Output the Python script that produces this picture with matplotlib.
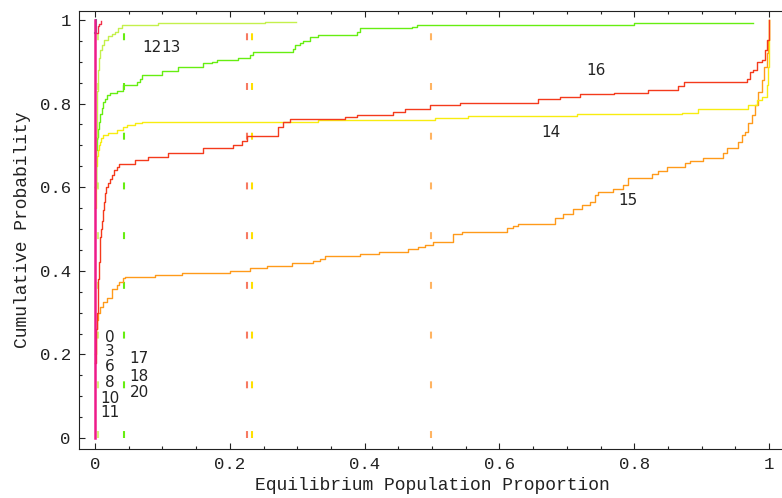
import matplotlib
matplotlib.use("Agg")
import matplotlib.pyplot as plt
from matplotlib.ticker import MultipleLocator, FuncFormatter

# --- Andmed: ECDF hüpped (x) ja tase peale hüpet (y) ---
x12 = [0.0, 0.001, 0.002, 0.003, 0.0037, 0.0045, 0.006, 0.0074, 0.0104, 0.0134, 0.019, 0.025, 0.0297,
       0.034, 0.040, 0.0935, 0.252, 0.298]
y12 = [0.60, 0.66, 0.72, 0.785, 0.83, 0.88, 0.91, 0.928, 0.94, 0.952, 0.962, 0.967, 0.971,
       0.981, 0.988, 0.992, 0.995, 0.995]

x13 = [0.0, 0.001, 0.002, 0.003, 0.0045, 0.006, 0.008, 0.0105, 0.0125, 0.0148, 0.018, 0.022, 0.0326,
       0.042, 0.062, 0.067, 0.070, 0.0994, 0.123, 0.160, 0.174, 0.181, 0.212, 0.230, 0.234, 0.294, 0.297,
       0.304, 0.309, 0.319, 0.331, 0.389, 0.393, 0.470, 0.478, 0.800, 0.976]
y13 = [0.60, 0.65, 0.69, 0.72, 0.74, 0.755, 0.775, 0.79, 0.803, 0.812, 0.82, 0.825, 0.83,
       0.844, 0.851, 0.86, 0.868, 0.878, 0.888, 0.897, 0.90, 0.904, 0.909, 0.916, 0.923, 0.93, 0.94,
       0.945, 0.95, 0.959, 0.964, 0.971, 0.981, 0.983, 0.988, 0.993, 0.993]

x14 = [0.0, 0.001, 0.002, 0.003, 0.004, 0.0055, 0.007, 0.0095, 0.012, 0.020, 0.032, 0.042, 0.048,
       0.060, 0.070, 0.331, 0.504, 0.553, 0.715, 0.871, 0.895, 0.969, 0.982, 0.990, 0.997, 0.9985,
       0.9995, 1.0]
y14 = [0.55, 0.60, 0.65, 0.675, 0.69, 0.70, 0.708, 0.718, 0.725, 0.73, 0.737, 0.744, 0.749,
       0.754, 0.756, 0.761, 0.766, 0.77, 0.775, 0.778, 0.788, 0.797, 0.809, 0.816, 0.844, 0.887,
       0.969, 1.0]

x15 = [0.0, 0.001, 0.002, 0.003, 0.005, 0.0074, 0.012, 0.0178, 0.025, 0.0326, 0.0356, 0.0415, 0.0445,
       0.089, 0.129, 0.200, 0.230, 0.255, 0.292, 0.323, 0.334, 0.341, 0.393, 0.421, 0.464, 0.479, 0.490,
       0.501, 0.531, 0.545, 0.611, 0.620, 0.628, 0.682, 0.694, 0.709, 0.723, 0.734, 0.742, 0.746, 0.769,
       0.783, 0.791, 0.826, 0.835, 0.849, 0.875, 0.883, 0.902, 0.932, 0.938, 0.954, 0.960, 0.964, 0.969,
       0.975, 0.979, 0.984, 0.990, 0.993, 0.997, 0.9985, 0.9995, 1.0]
y15 = [0.20, 0.23, 0.26, 0.282, 0.30, 0.313, 0.325, 0.335, 0.356, 0.366, 0.373, 0.383, 0.385,
       0.39, 0.395, 0.40, 0.407, 0.411, 0.419, 0.423, 0.428, 0.435, 0.44, 0.445, 0.452, 0.457, 0.462,
       0.469, 0.488, 0.493, 0.502, 0.507, 0.512, 0.526, 0.536, 0.548, 0.557, 0.565, 0.581, 0.589, 0.596,
       0.605, 0.622, 0.632, 0.639, 0.648, 0.658, 0.663, 0.67, 0.682, 0.694, 0.708, 0.725, 0.732, 0.754,
       0.773, 0.797, 0.828, 0.856, 0.888, 0.921, 0.952, 0.983, 1.0]

x16 = [0.0, 0.001, 0.002, 0.003, 0.004, 0.005, 0.006, 0.007, 0.008, 0.009, 0.010, 0.0115, 0.013, 0.015,
       0.017, 0.0195, 0.022, 0.025, 0.028, 0.032, 0.036, 0.059, 0.079, 0.108, 0.160, 0.205, 0.218, 0.226,
       0.272, 0.279, 0.289, 0.371, 0.389, 0.442, 0.460, 0.497, 0.542, 0.657, 0.690, 0.720, 0.770, 0.820,
       0.865, 0.874, 0.967, 0.972, 0.976, 0.982, 0.990, 0.994, 0.997, 1.0]
y16 = [0.18, 0.22, 0.26, 0.30, 0.34, 0.38, 0.42, 0.455, 0.48, 0.50, 0.52, 0.545, 0.565, 0.585,
       0.60, 0.61, 0.62, 0.63, 0.64, 0.648, 0.655, 0.665, 0.672, 0.682, 0.694, 0.70, 0.711, 0.722,
       0.745, 0.756, 0.763, 0.768, 0.773, 0.779, 0.787, 0.797, 0.801, 0.81, 0.815, 0.822, 0.826, 0.833,
       0.842, 0.852, 0.859, 0.876, 0.88, 0.90, 0.904, 0.928, 0.952, 1.0]

# väikesed seeriad nulli lähedal
x_small = [0.0, 0.004, 0.006, 0.009]
y_small = [0.97, 0.985, 0.99, 0.998]
x_teal = [0.0, 0.001]
y_teal = [0.97, 1.0]
x_zero = [0.0, 0.0]
y_zero = [0.0, 1.0]

# keskväärtuste kriipsjooned
means = [0.005, 0.0437, 0.2258, 0.233, 0.498]
mean_colors = ["#d4f27a", "#66ee11", "#f77a62", "#ffe000", "#ffb462"]

# sildid
labels = ["12", "13", "16", "14", "15", "0", "3", "6", "8", "10", "11", "17", "18", "20"]
label_x = [0.0845, 0.1125, 0.743, 0.677, 0.791, 0.0223, 0.0223, 0.0223, 0.0223, 0.0223, 0.0223,
           0.0653, 0.0653, 0.0653]
label_y = [0.935, 0.935, 0.878, 0.732, 0.567, 0.240, 0.206, 0.172, 0.132, 0.094, 0.060,
           0.191, 0.146, 0.110]

plt.rcParams["lines.scale_dashes"] = False
mono = "Liberation Mono"

fig = plt.figure(figsize=(7.82, 4.98), dpi=100)
ax = fig.add_axes([79 / 782, 49 / 498, 707 / 782, 438 / 498])

for m, c in zip(means, mean_colors):
    ax.plot([m, m], [0, 1], color=c, lw=1.5, dashes=(5.0, 30.8), solid_capstyle="butt")

ax.step(x15, y15, where="post", color="#ff9a1a", lw=1.0)
ax.step(x14, y14, where="post", color="#f8ec10", lw=1.0)
ax.step(x16, y16, where="post", color="#f43a1c", lw=1.0)
ax.step(x13, y13, where="post", color="#66ee11", lw=1.0)
ax.step(x12, y12, where="post", color="#c4f04c", lw=1.0)
ax.step(x_teal, y_teal, where="post", color="#2aa8a0", lw=1.5)
ax.step(x_small, y_small, where="post", color="#f0304a", lw=1.0)
ax.plot(x_zero, y_zero, color="#ee1a8a", lw=1.8)

for t, lx, ly in zip(labels, label_x, label_y):
    ax.text(lx, ly, t, ha="center", va="center", fontsize=11, color="#222222", family="DejaVu Sans")

ax.set_xlim(-0.0237, 1.025)
ax.set_ylim(-0.0263, 1.0215)

ax.xaxis.set_major_locator(MultipleLocator(0.2))
ax.xaxis.set_minor_locator(MultipleLocator(0.05))
ax.yaxis.set_major_locator(MultipleLocator(0.2))
ax.yaxis.set_minor_locator(MultipleLocator(0.05))
fmt = FuncFormatter(lambda v, p: "0" if abs(v) < 1e-9 else ("1" if abs(v - 1) < 1e-9 else f"{v:.1f}"))
ax.xaxis.set_major_formatter(fmt)
ax.yaxis.set_major_formatter(fmt)
ax.tick_params(which="both", direction="in", top=True, right=False, width=0.8, colors="#222222")
ax.tick_params(which="major", length=4.5, labelsize=12.5, pad=6)
ax.tick_params(which="minor", length=2.5)
for lab in ax.get_xticklabels() + ax.get_yticklabels():
    lab.set_family(mono)

for s in ax.spines.values():
    s.set_linewidth(0.8)
    s.set_color("#222222")

ax.set_xlabel("Equilibrium Population Proportion", family=mono, fontsize=13, color="#222222", labelpad=3)
ax.set_ylabel("Cumulative Probability", family=mono, fontsize=13, color="#222222", labelpad=6)

fig.savefig("out.png", dpi=100)
